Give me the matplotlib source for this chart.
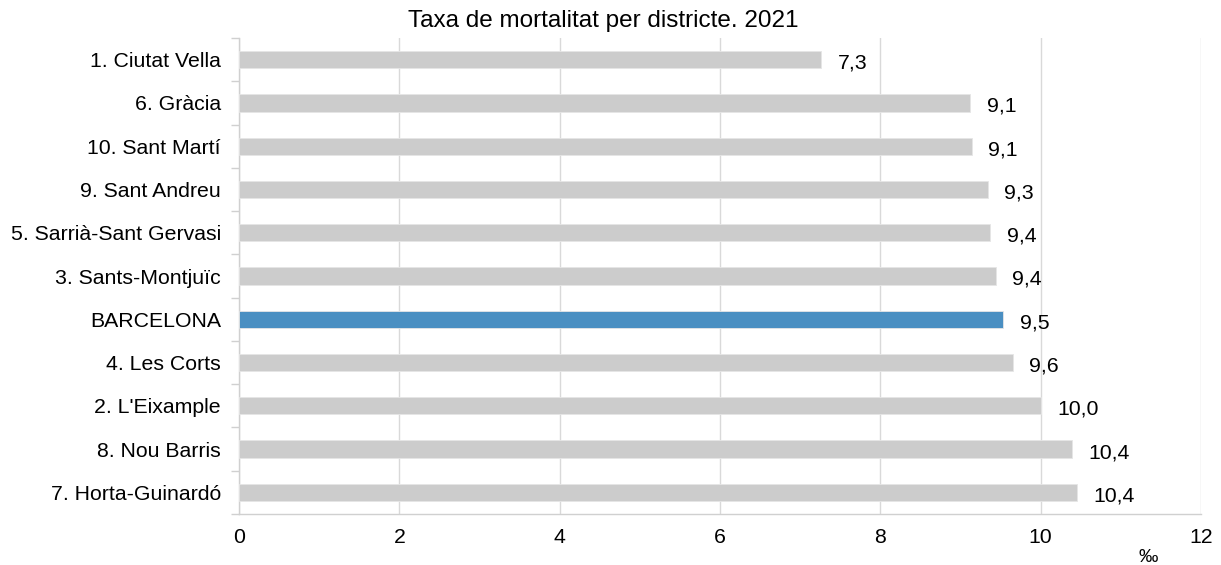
import matplotlib
matplotlib.use("Agg")
import matplotlib.pyplot as plt
import numpy as np

plt.rcParams["font.family"] = ["Liberation Sans", "DejaVu Sans"]

districtes = [
    "1. Ciutat Vella", "6. Gràcia", "10. Sant Martí", "9. Sant Andreu",
    "5. Sarrià-Sant Gervasi", "3. Sants-Montjuïc", "BARCELONA",
    "4. Les Corts", "2. L'Eixample", "8. Nou Barris", "7. Horta-Guinardó",
]
taxa = [7.26, 9.12, 9.14, 9.34, 9.37, 9.44, 9.53, 9.65, 10.0, 10.39, 10.45]
etiquetes = ["7,3", "9,1", "9,1", "9,3", "9,4", "9,4", "9,5", "9,6", "10,0", "10,4", "10,4"]
x_ticks = [0, 2, 4, 6, 8, 10, 12]

GRIS = "#cccccc"
BLAU = "#4a8fc2"
FS = 15.3

fig = plt.figure(figsize=(12.21, 5.65), dpi=100)
ax = fig.add_axes([239 / 1221, 1 - 514 / 565, (1201 - 239) / 1221, (514 - 38) / 565])

y = np.arange(len(districtes))
colors = [BLAU if d == "BARCELONA" else GRIS for d in districtes]
ax.barh(y, taxa, height=0.4, color=colors, edgecolor="#e6e6e6", linewidth=0.6, zorder=3)

for yi, v, lab in zip(y, taxa, etiquetes):
    ax.annotate(lab, (v, yi), xytext=(12, -2.5), textcoords="offset points",
                ha="left", va="center", fontsize=FS, color="black")

ax.set_xlim(0, 12)
ax.set_ylim(len(districtes) - 0.5, -0.5)
ax.set_xticks(x_ticks)
ax.set_xticklabels([str(t) for t in x_ticks], fontsize=FS)
ax.set_yticks(y)
ax.set_yticklabels(districtes, fontsize=FS)
ax.tick_params(axis="y", length=0, pad=13)
ax.tick_params(axis="x", length=0, pad=10)

# category boundary ticks on the left spine
ax.set_yticks(np.arange(-0.5, len(districtes)), minor=True)
ax.tick_params(axis="y", which="minor", length=6, color="#d0d0d0", width=1)

ax.grid(axis="x", color="#d9d9d9", linewidth=1, zorder=0)
for s in ["top", "right"]:
    ax.spines[s].set_visible(False)
for s in ["left", "bottom"]:
    ax.spines[s].set_color("#d0d0d0")
    ax.spines[s].set_linewidth(1)

fig.text(603 / 1221, 1 - 21 / 565, "Taxa de mortalitat per districte. 2021",
         ha="center", va="center", fontsize=17.5)
fig.text(1148 / 1221, 1 - 558 / 565, "‰", ha="center", va="center", fontsize=14)

fig.savefig("out.png", dpi=100)
